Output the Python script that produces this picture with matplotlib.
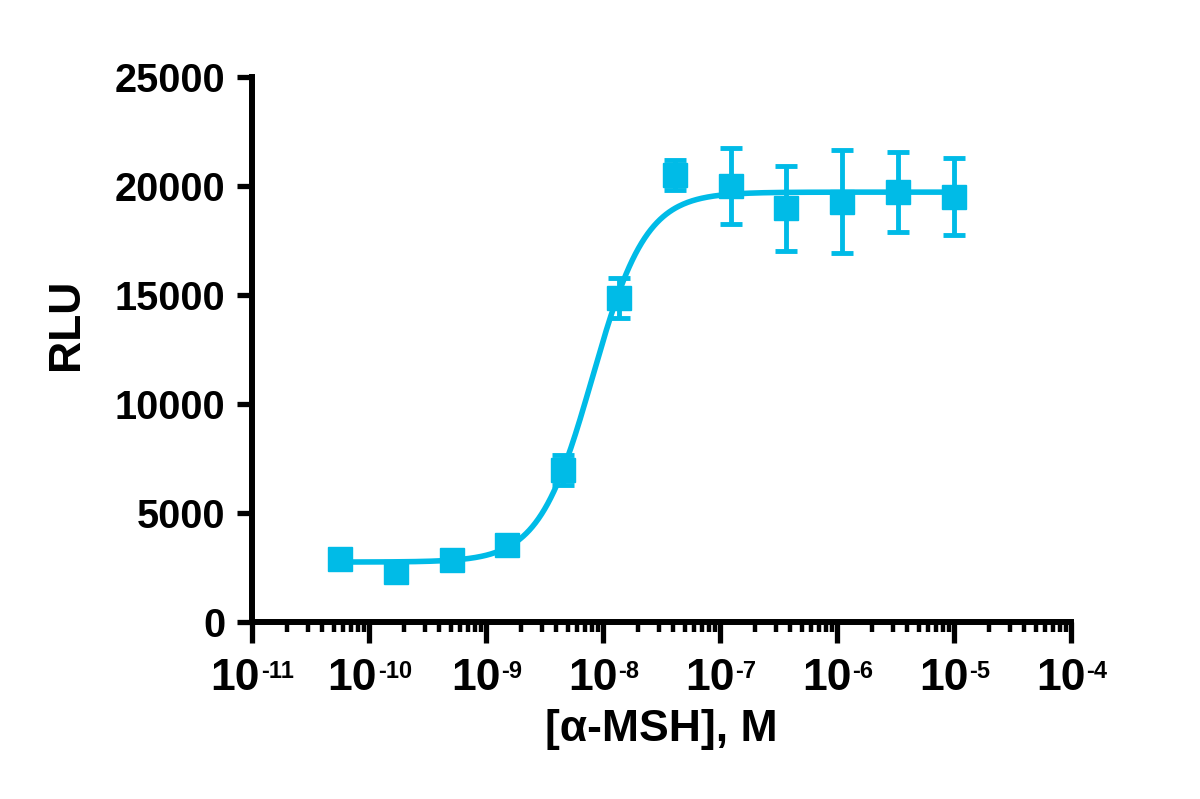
import matplotlib
matplotlib.use('Agg')
import matplotlib.pyplot as plt
import numpy as np

plt.rcParams['font.family'] = ['Liberation Sans', 'DejaVu Sans']
plt.rcParams['font.weight'] = 'bold'

# data: 3-fold dilution of alpha-MSH, mean RLU and SD
conc = [5.65e-11, 1.69e-10, 5.08e-10, 1.52e-9, 4.57e-9, 1.37e-8,
        4.12e-8, 1.23e-7, 3.70e-7, 1.11e-6, 3.33e-6, 1.0e-5]
rlu = [2875, 2310, 2845, 3530, 6970, 14870,
       20500, 20000, 18980, 19280, 19740, 19510]
sd = [150, 150, 150, 200, 690, 920,
      700, 1760, 1950, 2350, 1830, 1770]
exps = [-11, -10, -9, -8, -7, -6, -5, -4]
yticks = [0, 5000, 10000, 15000, 20000, 25000]

# 4PL fit parameters
bottom = 2750
top = 19720
log_ec50 = -8.09
hill = 1.9

col = '#00BBE7'

fig, ax = plt.subplots(figsize=(12, 7.99), dpi=100)
fig.subplots_adjust(left=0.21, right=0.8925, top=0.9036, bottom=0.2215)

# fitted curve
xf = np.logspace(np.log10(conc[0]), np.log10(conc[-1]), 400)
yf = bottom + (top - bottom) / (1 + 10 ** ((log_ec50 - np.log10(xf)) * hill))
ax.plot(xf, yf, color=col, lw=4.0, zorder=2)

# points with error bars
ax.errorbar(conc, rlu, yerr=sd, fmt='s', color=col, ms=17,
            elinewidth=3.5, capsize=8, capthick=3.5, zorder=3)

ax.set_xscale('log')
ax.set_xlim(1e-11, 1e-4)
ax.set_ylim(0, 25000)

ax.spines['top'].set_visible(False)
ax.spines['right'].set_visible(False)
ax.spines['left'].set_linewidth(4.3)
ax.spines['bottom'].set_linewidth(4.3)

ax.set_xticks([10.0 ** k for k in exps])
ax.set_xticklabels([])
ax.xaxis.set_minor_locator(matplotlib.ticker.LogLocator(base=10, subs=np.arange(2, 10), numticks=20))
ax.xaxis.set_minor_formatter(matplotlib.ticker.NullFormatter())

# x tick labels as "10" plus a small superscript exponent
base_fs = 32
exp_fs = 17
for k in exps:
    s = str(k)
    w10 = 2 * 0.556 * base_fs
    wexp = (0.333 + 0.556 * (len(s) - 1)) * exp_fs
    x0 = -(w10 + wexp) / 2
    ax.annotate('10', xy=(10.0 ** k, 0), xycoords=('data', 'axes fraction'),
                xytext=(x0, -26), textcoords='offset points',
                ha='left', va='top', fontsize=base_fs, fontweight='bold',
                annotation_clip=False)
    ax.annotate(s, xy=(10.0 ** k, 0), xycoords=('data', 'axes fraction'),
                xytext=(x0 + w10 + 1, -27), textcoords='offset points',
                ha='left', va='top', fontsize=exp_fs, fontweight='bold',
                annotation_clip=False)

ax.set_yticks(yticks)
ax.set_yticklabels([str(v) for v in yticks])

ax.tick_params(axis='x', which='major', length=15, width=3.8)
ax.tick_params(axis='x', which='minor', length=7, width=3.2)
ax.tick_params(axis='y', which='major', length=11, width=3.8, labelsize=28.5, pad=8)

ax.set_xlabel('[α-MSH], M', fontsize=32, fontweight='bold')
ax.set_ylabel('RLU', fontsize=32, fontweight='bold')
ax.xaxis.set_label_coords(0.5, -0.16)
ax.yaxis.set_label_coords(-0.202, 0.547)

plt.savefig('out.png', dpi=100)
